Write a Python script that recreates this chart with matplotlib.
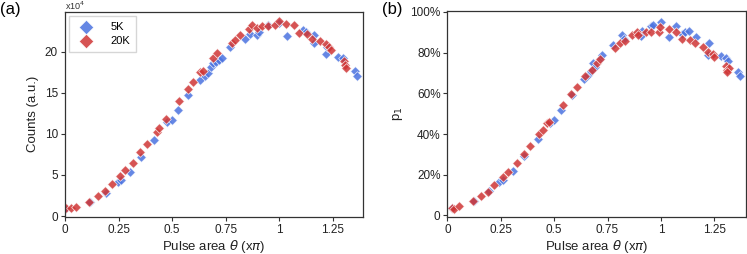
import numpy as np
import matplotlib
matplotlib.use("Agg")
import matplotlib.pyplot as plt
from matplotlib.ticker import FuncFormatter

plt.rcParams['font.family'] = ['Liberation Sans', 'DejaVu Sans']
plt.rcParams['mathtext.fontset'] = 'dejavusans'

# ---- panel (a): counts (x1e4) vs pulse area ----
a_x_5k = [0.0, 0.115, 0.193, 0.248, 0.263, 0.302, 0.354, 0.416, 0.477, 0.5, 0.527, 0.572,
          0.63, 0.653, 0.668, 0.679, 0.689, 0.704, 0.72, 0.731, 0.77, 0.84, 0.863, 0.897,
          0.905, 0.949, 0.996, 1.037, 1.109, 1.125, 1.159, 1.163, 1.217, 1.22, 1.273,
          1.296, 1.354, 1.362]
a_y_5k = [0.9, 1.7, 2.84, 4.18, 4.39, 5.4, 7.23, 9.27, 11.5, 11.7, 12.9, 14.7,
          16.6, 17.0, 17.4, 18.2, 18.6, 18.8, 19.0, 19.2, 20.6, 21.6, 22.2, 22.0,
          22.4, 23.3, 23.5, 21.9, 22.6, 22.4, 21.1, 22.0, 19.75, 20.6, 19.4,
          19.2, 17.6, 17.0]
a_x_20k = [0.003, 0.03, 0.053, 0.112, 0.154, 0.186, 0.217, 0.256, 0.282, 0.318, 0.349,
           0.383, 0.427, 0.44, 0.471, 0.531, 0.575, 0.598, 0.63, 0.642, 0.692, 0.71,
           0.778, 0.793, 0.816, 0.859, 0.874, 0.894, 0.92, 0.949, 0.98, 0.996, 1.03,
           1.069, 1.092, 1.128, 1.154, 1.187, 1.217, 1.23, 1.242, 1.3, 1.307, 1.31]
a_y_20k = [0.94, 0.94, 1.13, 1.74, 2.44, 3.05, 3.87, 4.92, 5.6, 6.5, 7.77,
           8.74, 10.2, 10.7, 11.8, 14.06, 15.45, 16.26, 17.5, 17.7, 19.2, 19.8,
           21.1, 21.46, 22.07, 22.8, 23.2, 22.9, 23.1, 23.1, 23.2, 23.8, 23.4,
           23.2, 22.3, 22.2, 21.5, 21.3, 21.0, 20.6, 20.2, 18.9, 18.4, 18.0]

# ---- panel (b): p1 (%) vs pulse area ----
b_x_5k = [0.02, 0.125, 0.196, 0.243, 0.258, 0.305, 0.358, 0.422, 0.482, 0.5, 0.532, 0.582,
          0.641, 0.66, 0.671, 0.68, 0.69, 0.713, 0.722, 0.774, 0.816, 0.828, 0.91, 0.906,
          0.953, 0.962, 1.0, 1.04, 1.07, 1.097, 1.113, 1.13, 1.164, 1.222, 1.226, 1.28,
          1.305, 1.314, 1.359, 1.37]
b_y_5k = [3.7, 7.2, 11.9, 16.6, 17.2, 22.0, 29.0, 37.4, 45.2, 46.8, 51.6, 59.4,
          67.0, 69.1, 71.2, 74.8, 72.9, 76.7, 78.9, 83.8, 88.6, 86.7, 90.7, 88.0,
          93.2, 93.5, 95.1, 87.5, 93.2, 89.0, 90.2, 90.7, 87.8, 79.0, 84.9, 78.4,
          77.6, 76.0, 70.7, 68.3]
b_x_20k = [0.02, 0.03, 0.055, 0.118, 0.155, 0.188, 0.219, 0.261, 0.285, 0.324, 0.358,
           0.386, 0.428, 0.446, 0.467, 0.477, 0.54, 0.578, 0.605, 0.644, 0.678, 0.702,
           0.714, 0.785, 0.808, 0.831, 0.863, 0.886, 0.895, 0.928, 0.956, 0.991, 0.998,
           1.039, 1.073, 1.097, 1.136, 1.159, 1.195, 1.222, 1.245, 1.25, 1.304, 1.31,
           1.32, 1.31]
b_y_20k = [3.6, 3.3, 4.6, 7.0, 9.5, 11.7, 15.1, 18.7, 21.5, 25.6, 30.1,
           33.9, 39.9, 42.0, 45.2, 46.0, 54.5, 59.9, 63.1, 68.6, 71.6, 74.8,
           76.8, 82.4, 84.6, 85.7, 88.6, 90.2, 88.8, 90.0, 90.0, 90.2, 92.7,
           91.4, 90.2, 86.7, 86.2, 84.6, 82.6, 80.5, 79.2, 77.9, 73.2, 71.6,
           72.4, 70.3]

xticks = [0, 0.25, 0.5, 0.75, 1, 1.25]
xticklabels = ['0', '0.25', '0.5', '0.75', '1', '1.25']

blue = '#4a72e0'
red = '#cf3535'
grey = '#333333'

fig = plt.figure(figsize=(7.47, 2.54), dpi=100)
ax1 = fig.add_axes([0.087, 0.147, 0.399, 0.806])
ax2 = fig.add_axes([0.599, 0.147, 0.400, 0.810])

def style(ax):
    for s in ax.spines.values():
        s.set_color(grey)
        s.set_linewidth(0.9)
    ax.tick_params(direction='out', length=3, width=0.8, color=grey,
                   labelcolor='#222222', labelsize=8.5, pad=2)
    ax.set_xticks(xticks)
    ax.set_xticklabels(xticklabels)
    ax.set_xlabel(r'Pulse area $\theta$ (x$\pi$)', fontsize=9.5, color='#222222', labelpad=2)

kw = dict(marker='D', s=24, alpha=0.85, edgecolors='white', linewidths=0.5)

ax1.scatter(a_x_5k, a_y_5k, color=blue, label='5K', **kw)
ax1.scatter(a_x_20k, a_y_20k, color=red, label='20K', **kw)
ax1.set_xlim(0, 1.39)
ax1.set_ylim(-0.08, 24.85)
ax1.set_yticks([0, 5, 10, 15, 20])
style(ax1)
ax1.set_ylabel('Counts (a.u.)', fontsize=9.5, color='#222222', labelpad=4)
fig.text(0.087, 0.962, r'x10$^4$', fontsize=6.5,
         color='#333333', ha='left', va='baseline')
ax1.legend(loc='upper left', fontsize=8, markerscale=1.5, frameon=True,
           borderaxespad=0.4, handletextpad=1.2, borderpad=0.5,
           labelspacing=0.4, edgecolor='#cccccc', fancybox=False)

ax2.scatter(b_x_5k, b_y_5k, color=blue, **kw)
ax2.scatter(b_x_20k, b_y_20k, color=red, **kw)
ax2.set_xlim(0, 1.40)
ax2.set_ylim(-0.6, 100.5)
ax2.set_yticks([0, 20, 40, 60, 80, 100])
ax2.yaxis.set_major_formatter(FuncFormatter(lambda v, p: '0' if v == 0 else '%d%%' % v))
style(ax2)
ax2.set_ylabel(r'p$_1$', fontsize=9.5, color='#222222', labelpad=4)

fig.text(0.0, 0.962, '(a)', fontsize=12, ha='left', va='center')
fig.text(0.511, 0.962, '(b)', fontsize=12, ha='left', va='center')

fig.savefig('out.png', dpi=100)
